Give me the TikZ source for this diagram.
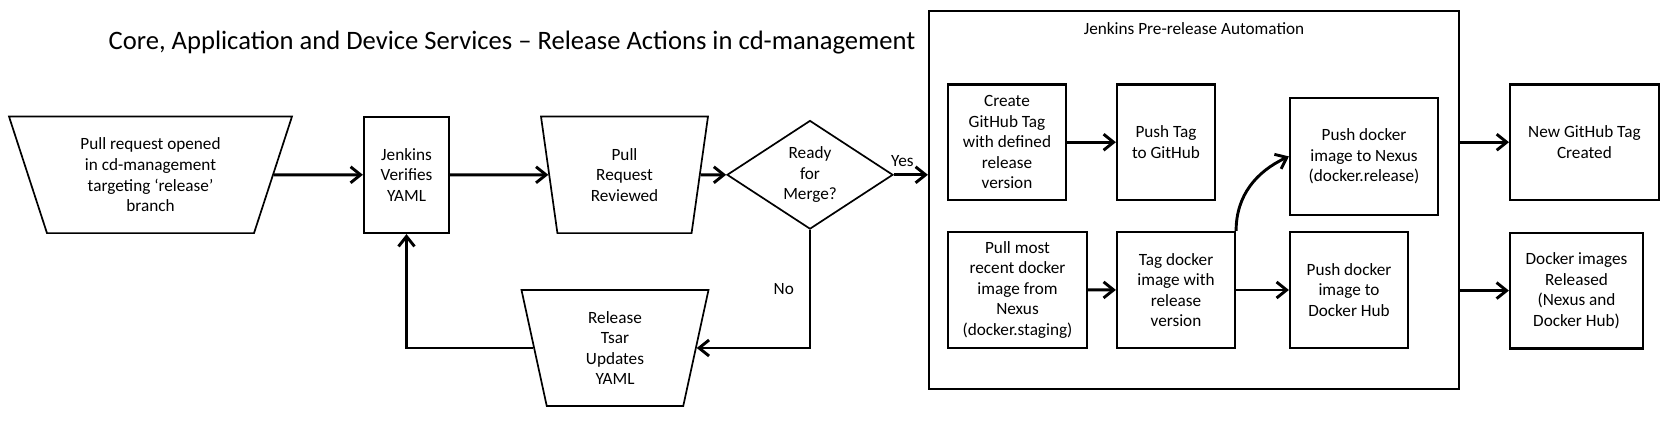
\documentclass[tikz,border=0pt]{standalone}
\usepackage{fontspec}
\setmainfont{Carlito}
\usetikzlibrary{shapes.geometric,arrows.meta,positioning}

\tikzset{
  txt/.style={font=\fontsize{8.6}{10.3}\selectfont, align=center},
  box/.style={txt, draw, line width=1.1pt, inner sep=1pt},
  manual/.style={txt, trapezium, shape border rotate=180, trapezium stretches body,
    draw, line width=0.85pt, inner sep=1pt},
  decision/.style={txt, diamond, aspect=1.5, draw, line width=0.85pt, inner sep=0pt},
  flow/.style={line width=1.45pt, -{Straight Barb[length=5pt,width=8pt]}},
}

\begin{document}
\begin{tikzpicture}[x=0.5pt,y=0.5pt]
  \useasboundingbox (0,0) rectangle (1677,-429);

  % Title
  \node[font=\fontsize{13.3}{16}\selectfont] (title) at (512,-43)
    {Core, Application and Device Services – Release Actions in cd-management};

  % Review loop
  \node[manual, trapezium angle=64, minimum width=141.5pt, minimum height=58.3pt] (pr) at (150.5,-174.8)
    {Pull request opened\\in cd-management\\targeting ‘release’\\branch};
  \node[box, minimum width=42.5pt, minimum height=58.2pt] (jv) at (406.5,-174.8) {Jenkins\\Verifies\\YAML};
  \node[manual, trapezium angle=74, minimum width=83.5pt, minimum height=58.3pt] (prr) at (624.5,-174.8)
    {Pull\\Request\\Reviewed};
  \node[decision, minimum width=83pt, minimum height=54.3pt] (merge) at (810,-174.8) {Ready\\for\\Merge?};
  \node[manual, trapezium angle=72, minimum width=93.5pt, minimum height=58pt] (tsar) at (615,-348)
    {Release\\Tsar\\Updates\\YAML};

  % Jenkins pre-release automation
  \node[box, minimum width=265pt, minimum height=189pt] (auto) at (1194,-200) {};
  \node[txt] (autotitle) at (1194,-29) {Jenkins Pre-release Automation};
  \node[box, minimum width=59pt, minimum height=57.8pt] (create) at (1007,-142.2)
    {Create\\GitHub Tag\\with defined\\release\\version};
  \node[box, minimum width=49pt, minimum height=57.8pt] (pushtag) at (1166,-142.2) {Push Tag\\to GitHub};
  \node[box, minimum width=74pt, minimum height=58.3pt] (nexus) at (1364,-156.4)
    {Push docker\\image to Nexus\\(docker.release)};
  \node[box, minimum width=69.5pt, minimum height=58pt] (pullmost) at (1017.5,-289.8)
    {Pull most\\recent docker\\image from\\Nexus\\(docker.staging)};
  \node[box, minimum width=59pt, minimum height=58pt] (tag) at (1176,-290)
    {Tag docker\\image with\\release\\version};
  \node[box, minimum width=59pt, minimum height=58pt] (pushdh) at (1349,-290)
    {Push docker\\image to\\Docker Hub};

  % Results
  \node[box, minimum width=74.3pt, minimum height=57.8pt] (newtag) at (1584.4,-142.2) {New GitHub Tag\\Created};
  \node[box, minimum width=66.5pt, minimum height=57.8pt] (released) at (1576.5,-290.6)
    {Docker images\\Released\\(Nexus and\\Docker Hub)};

  % Connectors
  \draw[flow] (pr) -- (jv);
  \draw[flow] (jv) -- (prr);
  \draw[flow] (prr) -- (merge);
  \draw[flow] (merge.east) -- (merge.east -| auto.west) node[txt, pos=0.25, above] {Yes};
  \draw[flow] (merge) |- (tsar) node[txt, pos=0.25, left=4pt] {No};
  \draw[flow] (tsar) -| (jv);
  \draw[flow] (create) -- (pushtag);
  \draw[flow] (pullmost) -- (tag);
  \draw[flow] (tag) -- (pushdh);
  \draw[flow] (tag.north east) to[out=90, in=205] (nexus.west);
  \draw[flow] (auto.east |- newtag.west) -- (newtag.west);
  \draw[flow] (auto.east |- released.west) -- (released.west);
\end{tikzpicture}
\end{document}
